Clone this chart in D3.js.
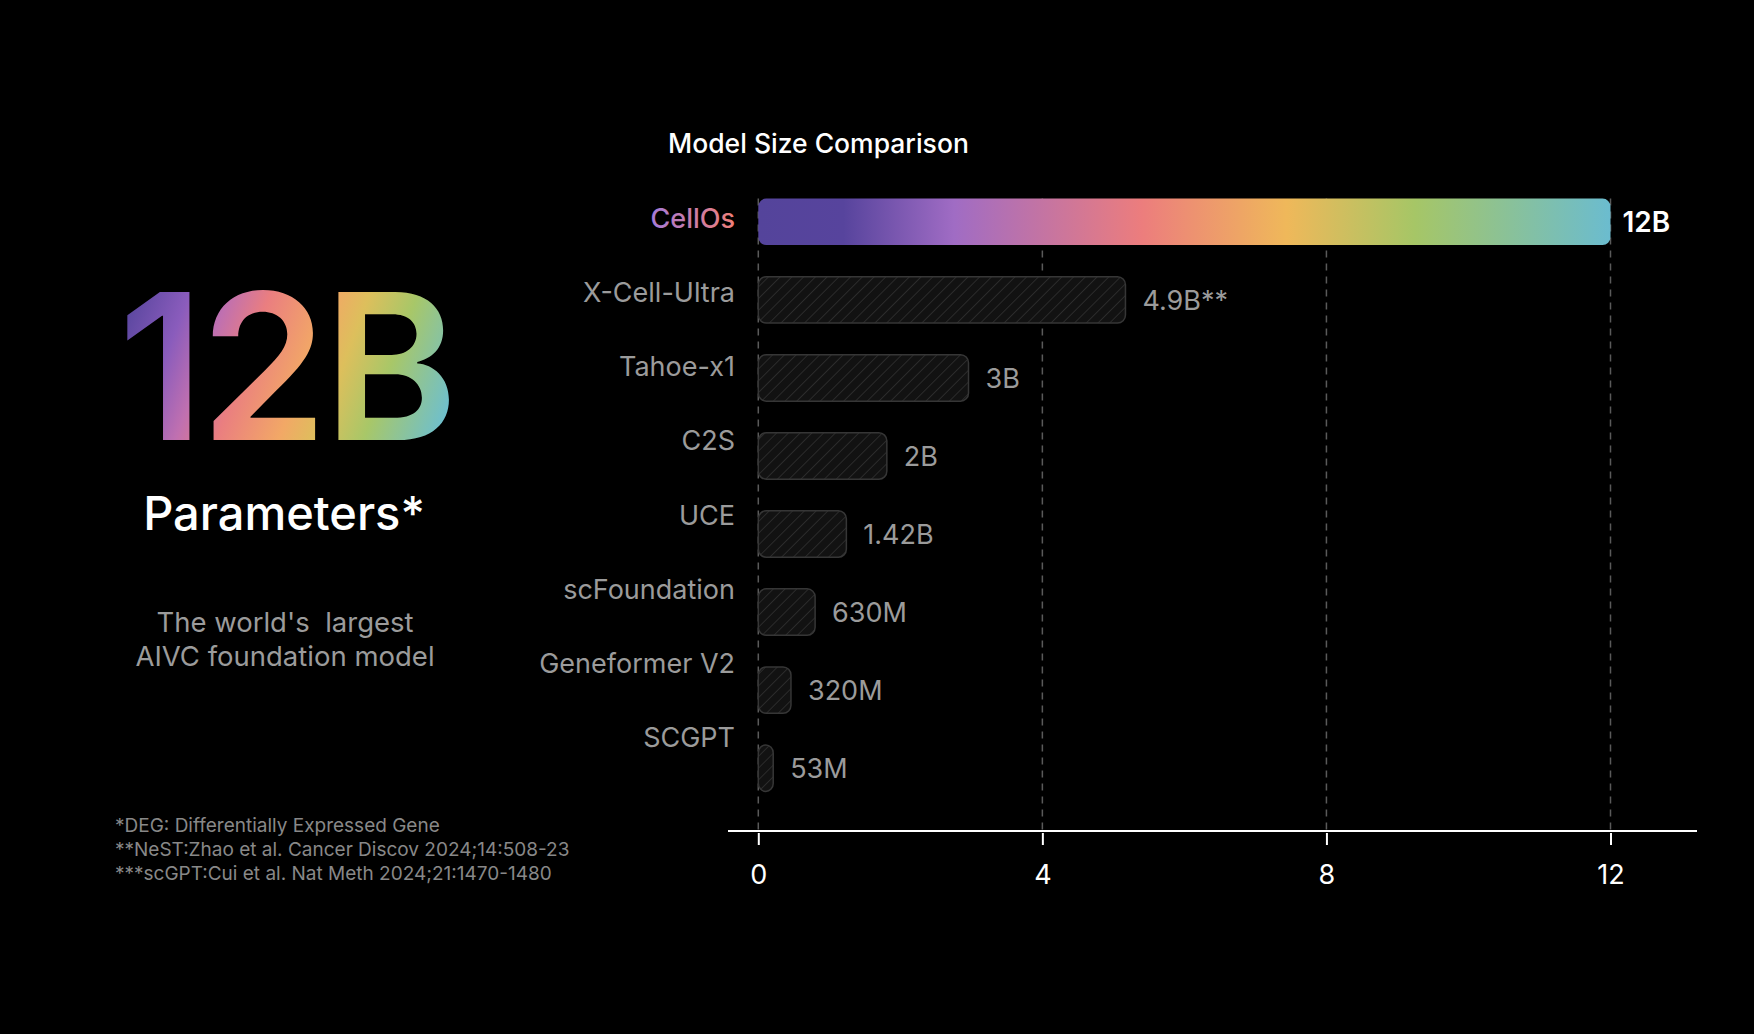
<!DOCTYPE html>
<html>
<head>
<meta charset="utf-8">
<script src="https://cdn.jsdelivr.net/npm/d3@7"></script>
<style>
  html, body { margin: 0; padding: 0; background: #000; }
  svg { display: block; font-family: Inter, "Noto Sans", sans-serif; }
</style>
</head>
<body>
<div id="chart"></div>
<script>
// data
var models = ["CellOs", "X-Cell-Ultra", "Tahoe-x1", "C2S", "UCE", "scFoundation", "Geneformer V2", "SCGPT"];
var barLengths = [12, 5.17, 2.96, 1.81, 1.24, 0.80, 0.46, 0.21]; // drawn length, billions
var valueLabels = ["12B", "4.9B**", "3B", "2B", "1.42B", "630M", "320M", "53M"];
var xTicks = [0, 4, 8, 12];
var footnotes = [
  "*DEG: Differentially Expressed Gene",
  "**NeST:Zhao et al. Cancer Discov 2024;14:508-23",
  "***scGPT:Cui et al. Nat Meth 2024;21:1470-1480"
];
var tagline = ["The world's  largest", "AIVC foundation model"];

var W = 1754, H = 1034;

var svg = d3.select("#chart").append("svg")
  .attr("width", W)
  .attr("height", H);

svg.append("rect").attr("width", W).attr("height", H).attr("fill", "#000");

var defs = svg.append("defs");

// rainbow for the CellOs bar
var barGrad = defs.append("linearGradient").attr("id", "barGrad");
[[0, "#54449b"], [0.10, "#57449d"], [0.23, "#a06cc4"], [0.45, "#ec7d7d"],
 [0.62, "#efb85a"], [0.77, "#a6c666"], [1, "#6bbccf"]].forEach(function(s) {
  barGrad.append("stop").attr("offset", s[0]).attr("stop-color", s[1]);
});

// rainbow for the big "12B"
var bigGrad = defs.append("linearGradient").attr("id", "bigGrad")
  .attr("gradientUnits", "userSpaceOnUse")
  .attr("x1", 124).attr("y1", 300).attr("x2", 448).attr("y2", 420);
[[0, "#55449c"], [0.17, "#8a5cbc"], [0.28, "#c070b0"], [0.39, "#ea7e80"],
 [0.56, "#f2a866"], [0.66, "#ddbf5c"], [0.79, "#a8c768"], [1, "#6cbfd2"]].forEach(function(s) {
  bigGrad.append("stop").attr("offset", s[0]).attr("stop-color", s[1]);
});

var labelGrad = defs.append("linearGradient").attr("id", "labelGrad")
  .attr("gradientUnits", "userSpaceOnUse")
  .attr("x1", 653).attr("x2", 735).attr("y1", 0).attr("y2", 0);
labelGrad.append("stop").attr("offset", 0).attr("stop-color", "#a77bd6");
labelGrad.append("stop").attr("offset", 1).attr("stop-color", "#ef7f78");

var hatch = defs.append("pattern").attr("id", "hatch")
  .attr("patternUnits", "userSpaceOnUse")
  .attr("width", 8.3).attr("height", 8.3)
  .attr("patternTransform", "rotate(45)");
hatch.append("rect").attr("width", 8.3).attr("height", 8.3).attr("fill", "#121212");
hatch.append("line").attr("x1", 0).attr("y1", 0).attr("x2", 0).attr("y2", 8.3)
  .attr("stroke", "#3a3a3a").attr("stroke-width", 1.2);

// ---- left panel ----
svg.append("text")
  .attr("x", 286).attr("y", 440)
  .attr("text-anchor", "middle")
  .attr("font-size", 204).attr("font-weight", 600)
  .attr("letter-spacing", -4)
  .attr("fill", "url(#bigGrad)")
  .text("12B");

svg.append("text")
  .attr("x", 284).attr("y", 530)
  .attr("text-anchor", "middle")
  .attr("font-size", 47).attr("font-weight", 500)
  .attr("fill", "#fff")
  .text("Parameters*");

svg.selectAll(".tag").data(tagline).enter().append("text")
  .attr("class", "tag")
  .attr("x", 285)
  .attr("y", function(d, i) { return 632 + i * 33.5; })
  .attr("text-anchor", "middle")
  .attr("font-size", 27.5)
  .attr("fill", "#9b9b9b")
  .style("white-space", "pre")
  .text(function(d) { return d; });

svg.selectAll(".note").data(footnotes).enter().append("text")
  .attr("class", "note")
  .attr("x", 115)
  .attr("y", function(d, i) { return 832 + i * 23.8; })
  .attr("font-size", 19)
  .attr("fill", "#888")
  .text(function(d) { return d; });

// ---- chart ----
var x = d3.scaleLinear().domain([0, 12]).range([758.3, 1610.5]);
var y = d3.scaleBand().domain(models).range([183, 807]).paddingInner(0.405).paddingOuter(0.2);
var yLabel = d3.scalePoint().domain(models).range([228, 747]);

svg.append("text")
  .attr("x", 668).attr("y", 153)
  .attr("font-size", 26.5).attr("font-weight", 500)
  .attr("fill", "#fff")
  .text("Model Size Comparison");

// dashed grid
svg.selectAll(".grid").data(xTicks).enter().append("line")
  .attr("class", "grid")
  .attr("x1", function(d) { return x(d); })
  .attr("x2", function(d) { return x(d); })
  .attr("y1", y(models[0]))
  .attr("y2", 830)
  .attr("stroke", "#5a5a5a")
  .attr("stroke-width", 1.5)
  .attr("stroke-dasharray", "7,6");

// bars
svg.selectAll(".bar").data(models).enter().append("rect")
  .attr("class", "bar")
  .attr("x", x(0))
  .attr("y", function(d) { return y(d); })
  .attr("width", function(d, i) { return x(barLengths[i]) - x(0); })
  .attr("height", y.bandwidth())
  .attr("rx", 8)
  .attr("fill", function(d, i) { return i === 0 ? "url(#barGrad)" : "url(#hatch)"; })
  .attr("stroke", function(d, i) { return i === 0 ? "none" : "#363636"; })
  .attr("stroke-width", 1.5);

// value labels
svg.selectAll(".val").data(models).enter().append("text")
  .attr("class", "val")
  .attr("x", function(d, i) { return x(barLengths[i]) + (i === 0 ? 12 : 17); })
  .attr("y", function(d) { return y(d) + y.bandwidth() / 2 + 10; })
  .attr("font-size", function(d, i) { return i === 0 ? 28 : 27; })
  .attr("font-weight", function(d, i) { return i === 0 ? 600 : 400; })
  .attr("fill", function(d, i) { return i === 0 ? "#fff" : "#9b9b9b"; })
  .text(function(d, i) { return valueLabels[i]; });

// category labels
svg.selectAll(".cat").data(models).enter().append("text")
  .attr("class", "cat")
  .attr("x", 735)
  .attr("y", function(d) { return yLabel(d); })
  .attr("text-anchor", "end")
  .attr("font-size", 27)
  .attr("font-weight", function(d, i) { return i === 0 ? 500 : 400; })
  .attr("fill", function(d, i) { return i === 0 ? "url(#labelGrad)" : "#9b9b9b"; })
  .text(function(d) { return d; });

// x axis
svg.append("line")
  .attr("x1", 728).attr("x2", 1697)
  .attr("y1", 831).attr("y2", 831)
  .attr("stroke", "#fff").attr("stroke-width", 2);

var xAxis = d3.axisBottom(x).tickValues(xTicks).tickSize(12).tickPadding(0);
var gx = svg.append("g")
  .attr("transform", "translate(0,833)")
  .call(xAxis);
gx.select(".domain").remove();
gx.selectAll(".tick line").attr("stroke", "#fff").attr("stroke-width", 2);
gx.selectAll(".tick text")
  .attr("y", 51).attr("dy", null)
  .attr("fill", "#fff")
  .attr("font-size", 27)
  .attr("font-family", "Inter, 'Noto Sans', sans-serif");
</script>
</body>
</html>
